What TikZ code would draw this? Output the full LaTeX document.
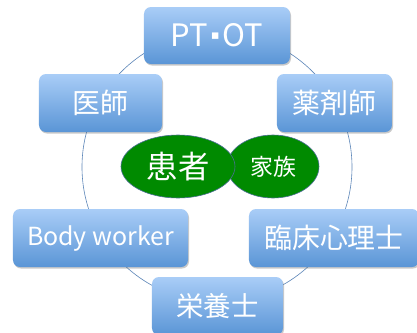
\documentclass[tikz,border=0pt]{standalone}
\usepackage{fontspec}
\setmainfont{Noto Sans CJK JP}
\newfontfamily\dvsans{DejaVu Sans}
\usetikzlibrary{shadows,shapes.geometric}
\definecolor{boxtop}{HTML}{A9CDF7}
\definecolor{boxbot}{HTML}{5A95D6}
\definecolor{ringc}{HTML}{5B85B8}
\definecolor{greenf}{HTML}{008A00}
\definecolor{ellline}{HTML}{4A6F94}
\tikzset{
  rolebox/.style={rectangle, rounded corners=7bp, top color=boxtop, bottom color=boxbot,
    draw=none, text=white, inner sep=0pt,
    drop shadow={shadow xshift=1bp, shadow yshift=-1.5bp, opacity=0.35, fill=black!60}},
  core/.style={ellipse, fill=greenf, draw=ellline, line width=0.6pt, text=white, inner sep=0pt}
}
\begin{document}
\begin{tikzpicture}[x=1bp,y=-1bp]
\useasboundingbox (0,0) rectangle (417,333);
\clip (0,0) rectangle (417,333);
\fill[white] (0,0) rectangle (417,333);
\node[circle, draw=ringc, line width=0.6pt, minimum size=270bp, inner sep=0pt] (ring) at (217,167) {};
\node[rolebox, minimum width=146bp, minimum height=57bp, font=\fontsize{31}{31}\selectfont] (pt) at (217,35.5) {PT\hspace{3bp}\raisebox{7.5bp}{\dvsans\fontsize{13}{13}\selectfont ▪}\hspace{3bp}OT};
\node[rolebox, minimum width=123bp, minimum height=58bp, font=\fontsize{28}{28}\selectfont] (doc) at (100.5,103) {医師};
\node[rolebox, minimum width=115bp, minimum height=58bp, font=\fontsize{28}{28}\selectfont] (pharm) at (334.5,103) {薬剤師};
\node[rolebox, minimum width=175bp, minimum height=58bp, font=\fontsize{25}{25}\selectfont] (body) at (100.5,238) {Body worker};
\node[rolebox, minimum width=170bp, minimum height=58bp, font=\fontsize{28}{28}\selectfont] (psy) at (334,238) {臨床心理士};
\node[rolebox, minimum width=131bp, minimum height=58bp, font=\fontsize{27.5}{27.5}\selectfont] (diet) at (217.5,306) {栄養士};
\node[core, minimum width=92bp, minimum height=63bp, font=\fontsize{23}{23}\selectfont] (fam) at (273,166.5) {家族};
\node[core, minimum width=114bp, minimum height=63bp, font=\fontsize{31.5}{31.5}\selectfont] (pat) at (178,166.5) {患者};
\end{tikzpicture}
\end{document}
